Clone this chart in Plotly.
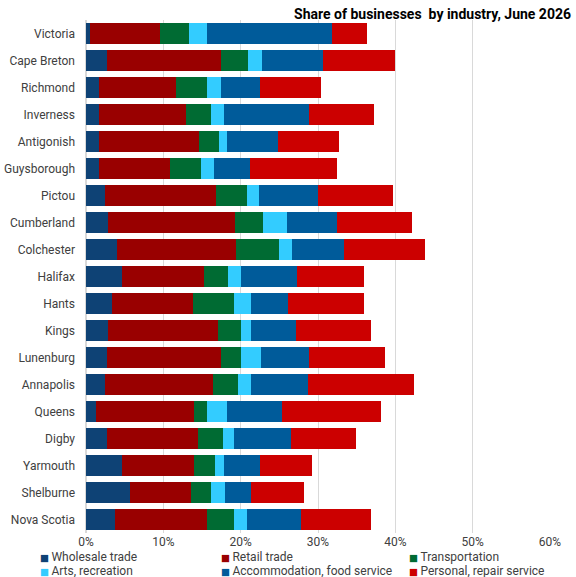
import plotly.graph_objects as go

categories = ["Victoria", "Cape Breton", "Richmond", "Inverness", "Antigonish", "Guysborough",
              "Pictou", "Cumberland", "Colchester", "Halifax", "Hants", "Kings", "Lunenburg",
              "Annapolis", "Queens", "Digby", "Yarmouth", "Shelburne", "Nova Scotia"]

wholesale = [0.5, 2.7, 1.7, 1.7, 1.7, 1.7, 2.4, 2.9, 4.0, 4.6, 3.3, 2.9, 2.7, 2.4, 1.3, 2.7, 4.6, 5.7, 3.7]
retail = [9.1, 14.7, 10.0, 11.2, 12.9, 9.2, 14.4, 16.4, 15.4, 10.7, 10.6, 14.2, 14.7, 14.0, 12.7, 11.8, 9.4, 7.9, 12.0]
transport = [3.7, 3.6, 4.0, 3.2, 2.6, 4.0, 4.0, 3.6, 5.5, 3.1, 5.3, 3.0, 2.7, 3.2, 1.7, 3.2, 2.7, 2.6, 3.4]
arts = [2.3, 1.8, 1.7, 1.7, 1.0, 1.7, 1.6, 3.1, 1.7, 1.7, 2.2, 1.2, 2.5, 1.7, 2.5, 1.4, 1.2, 1.8, 1.7]
accommodation = [16.2, 7.9, 5.1, 11.1, 6.6, 4.6, 7.6, 6.4, 6.7, 7.2, 4.7, 5.8, 6.2, 7.4, 7.2, 7.4, 4.6, 3.4, 7.0]
personal = [4.5, 9.3, 7.9, 8.4, 7.9, 11.3, 9.7, 9.8, 10.6, 8.7, 9.8, 9.8, 9.8, 13.7, 12.7, 8.4, 6.7, 6.8, 9.0]

series_names = ["Wholesale trade", "Retail trade", "Transportation", "Arts, recreation",
                "Accommodation, food service", "Personal, repair service"]
series_values = [wholesale, retail, transport, arts, accommodation, personal]
colors = ["#0E4275", "#990000", "#006B33", "#33CCFF", "#005B9A", "#CC0000"]

FONT = "Roboto, Liberation Sans, sans-serif"
TXT = "#404040"
W, H = 576, 577

legend_keys = ["legend", "legend2", "legend3", "legend4", "legend5", "legend6"]
legend_x = [0, 181, 369, 0, 181, 369]
legend_y = [556, 556, 556, 570, 570, 570]

fig = go.Figure()
for name, vals, col in zip(series_names, series_values, colors):
    fig.add_trace(go.Bar(
        y=categories, x=[v / 100 for v in vals], name=name, orientation="h",
        marker=dict(color=col, line=dict(width=0)), showlegend=False,
    ))

# legend-only entries: coloured square glyph + series name
for name, col, lg in zip(series_names, colors, legend_keys):
    fig.add_trace(go.Scatter(
        x=[None], y=[None], mode="markers",
        marker=dict(color="rgba(0,0,0,0)", size=1, line=dict(width=0)),
        name=f'<span style="color:{col};font-size:9.5px;font-family:DejaVu Sans">■</span>\u2009{name}',
        legend=lg, showlegend=True, hoverinfo="skip",
    ))

legends = {}
for lg, lx, ly in zip(legend_keys, legend_x, legend_y):
    legends[lg] = dict(
        orientation="h", xref="container", yref="container", yanchor="middle", xanchor="left",
        font=dict(family=FONT, size=12, color=TXT), bgcolor="rgba(0,0,0,0)",
        itemwidth=30, borderwidth=0, x=lx / W, y=1 - ly / H,
    )

fig.update_layout(
    width=W, height=H,
    barmode="stack", bargap=0.2,
    plot_bgcolor="white", paper_bgcolor="white",
    margin=dict(l=86, r=26, t=20, b=44, autoexpand=False),
    font=dict(family=FONT, size=12, color=TXT),
    title=dict(text="Share of businesses\u00a0 by industry, June 2026", xref="container", x=571 / W,
               xanchor="right", yref="container", y=1 - 14 / H, yanchor="middle",
               font=dict(family=FONT, size=14, color="#000000", weight="bold")),
    xaxis=dict(range=[0, 0.6], tickformat=".0%", dtick=0.1, showgrid=True, gridcolor="#D9D9D9",
               gridwidth=1, zeroline=True, zerolinecolor="#D9D9D9", ticks="", showline=False,
               tickfont=dict(family=FONT, size=12, color=TXT), fixedrange=True, ticklabelstandoff=0),
    yaxis=dict(autorange="reversed", ticks="", showline=False, showgrid=False,
               tickfont=dict(family=FONT, size=12, color=TXT), ticklabelstandoff=10),
    showlegend=True,
    **legends,
)

fig.write_html("out.html", config={"displayModeBar": False},
               post_script="document.body.style.margin='0px';")
